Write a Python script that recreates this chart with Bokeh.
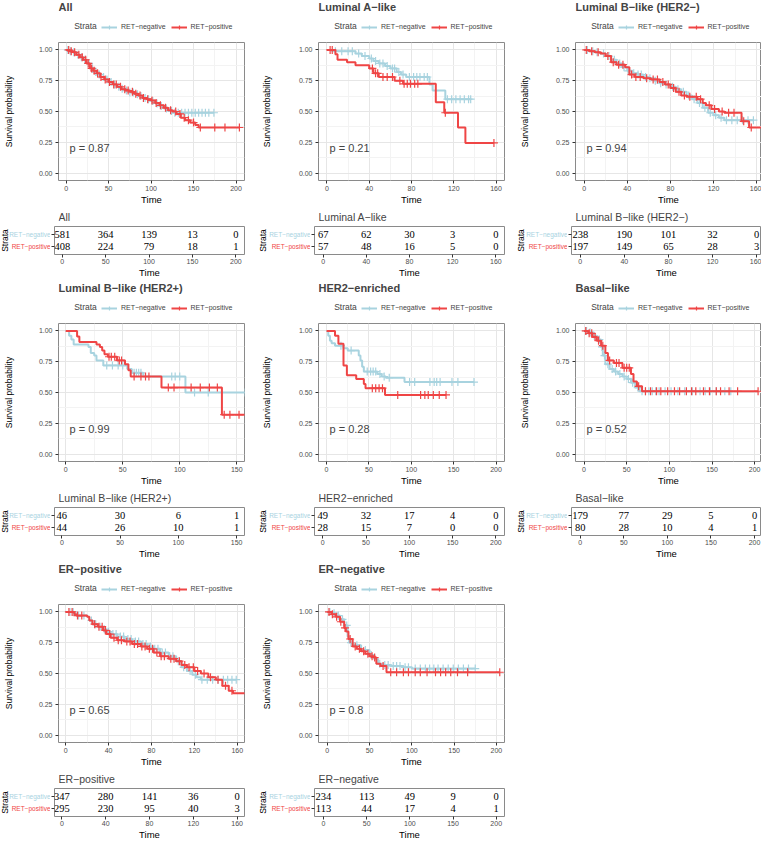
import math
from bokeh.plotting import figure
from bokeh.models import (Range1d, Label, LabelSet, Legend, LegendItem, FixedTicker,
                          ColumnDataSource, PrintfTickFormatter)
from bokeh.layouts import column, row
from bokeh.embed import file_html
from bokeh.resources import INLINE

FONT = "Liberation Sans"
NEG_COLOR = "#A8D3DF"
POS_COLOR = "#EF4545"
STRATA = ["RET−negative", "RET−positive"]

TITLES = ["All", "Luminal A−like", "Luminal B−like (HER2−)", "Luminal B−like (HER2+)",
          "HER2−enriched", "Basal−like", "ER−positive", "ER−negative"]
PVALUES = ["p = 0.87", "p = 0.21", "p = 0.94", "p = 0.99", "p = 0.28", "p = 0.52", "p = 0.65", "p = 0.8"]

# ---- All ----
ALL_TICKS = [0, 50, 100, 150, 200]
ALL_NEG_T = [0, 4, 8, 12, 16, 20, 24, 28, 32, 36, 40, 45, 50, 55, 60, 65, 70, 75, 80, 85, 90, 95, 100, 105, 110, 115, 120, 125, 174]
ALL_NEG_S = [1.0, 0.99, 0.98, 0.96, 0.94, 0.92, 0.89, 0.85, 0.82, 0.80, 0.78, 0.76, 0.74, 0.72, 0.70, 0.685, 0.67, 0.655, 0.64, 0.625, 0.61, 0.60, 0.585, 0.565, 0.545, 0.525, 0.505, 0.49, 0.49]
ALL_NEG_C = [2, 5, 9, 14, 18, 22, 27, 31, 35, 39, 44, 48, 53, 57, 62, 66, 71, 75, 79, 84, 88, 93, 97, 102, 107, 112, 118, 124, 128, 132, 136, 140, 144, 148, 152, 156, 160, 164, 168, 174]
ALL_POS_T = [0, 4, 8, 12, 16, 20, 24, 28, 32, 36, 40, 45, 50, 55, 60, 65, 70, 75, 80, 85, 90, 95, 100, 105, 110, 115, 120, 125, 130, 135, 140, 146, 152, 156, 204]
ALL_POS_S = [1.0, 0.99, 0.98, 0.96, 0.94, 0.92, 0.89, 0.85, 0.83, 0.81, 0.78, 0.76, 0.74, 0.72, 0.70, 0.68, 0.67, 0.66, 0.645, 0.63, 0.61, 0.60, 0.59, 0.57, 0.55, 0.53, 0.51, 0.50, 0.48, 0.45, 0.43, 0.41, 0.39, 0.37, 0.37]
ALL_POS_C = [3, 6, 10, 15, 19, 23, 26, 30, 33, 37, 41, 46, 51, 56, 59, 64, 69, 73, 78, 82, 87, 91, 96, 101, 106, 111, 117, 123, 129, 134, 139, 144, 150, 158, 175, 187, 204]
ALL_RISK_NEG = [581, 364, 139, 13, 0]
ALL_RISK_POS = [408, 224, 79, 18, 1]

# ---- Luminal A-like ----
LUMA_TICKS = [0, 40, 80, 120, 160]
LUMA_NEG_T = [0, 5, 27, 33, 40, 44, 49, 55, 60, 66, 70, 75, 97, 100, 112, 136]
LUMA_NEG_S = [1.0, 0.99, 0.97, 0.95, 0.93, 0.91, 0.89, 0.87, 0.85, 0.82, 0.80, 0.78, 0.72, 0.67, 0.60, 0.60]
LUMA_NEG_C = [8, 14, 20, 24, 30, 36, 42, 46, 50, 53, 57, 62, 64, 68, 72, 78, 82, 85, 88, 92, 95, 114, 118, 122, 126, 130, 134, 136]
LUMA_POS_T = [0, 8, 10, 19, 27, 40, 44, 49, 64, 72, 103, 111, 124, 131, 158]
LUMA_POS_S = [1.0, 0.965, 0.92, 0.90, 0.875, 0.85, 0.81, 0.78, 0.75, 0.725, 0.575, 0.49, 0.37, 0.245, 0.245]
LUMA_POS_C = [3, 5, 43, 46, 48, 53, 57, 62, 69, 73, 76, 79, 83, 86, 112, 158]
LUMA_RISK_NEG = [67, 62, 30, 3, 0]
LUMA_RISK_POS = [57, 48, 16, 5, 0]

# ---- Luminal B-like (HER2-) ----
LUMBN_TICKS = [0, 40, 80, 120, 160]
LUMBN_NEG_T = [0, 5, 10, 15, 20, 25, 30, 35, 40, 45, 50, 55, 60, 65, 70, 75, 80, 85, 90, 95, 100, 105, 110, 115, 120, 125, 130, 157]
LUMBN_NEG_S = [1.0, 0.99, 0.98, 0.97, 0.95, 0.92, 0.89, 0.86, 0.83, 0.81, 0.80, 0.78, 0.77, 0.75, 0.73, 0.72, 0.70, 0.68, 0.66, 0.63, 0.60, 0.57, 0.53, 0.49, 0.47, 0.45, 0.43, 0.43]
LUMBN_NEG_C = [3, 8, 12, 18, 23, 28, 33, 37, 41, 46, 50, 53, 57, 61, 66, 71, 76, 82, 87, 92, 97, 102, 107, 112, 117, 122, 127, 132, 137, 142, 147, 152, 157]
LUMBN_POS_T = [0, 5, 10, 15, 20, 25, 30, 38, 42, 47, 55, 62, 70, 75, 80, 85, 90, 95, 105, 110, 113, 118, 125, 130, 146, 153, 170]
LUMBN_POS_S = [1.0, 0.99, 0.98, 0.97, 0.95, 0.90, 0.88, 0.86, 0.80, 0.78, 0.77, 0.76, 0.74, 0.72, 0.69, 0.66, 0.63, 0.62, 0.60, 0.57, 0.55, 0.52, 0.50, 0.49, 0.42, 0.37, 0.37]
LUMBN_POS_C = [2, 7, 13, 22, 27, 32, 36, 44, 48, 52, 58, 64, 68, 73, 78, 83, 88, 93, 98, 104, 108, 116, 121, 128, 134, 139, 148, 155]
LUMBN_RISK_NEG = [238, 190, 101, 32, 0]
LUMBN_RISK_POS = [197, 149, 65, 28, 3]

# ---- Luminal B-like (HER2+) ----
LUMBP_TICKS = [0, 50, 100, 150]
LUMBP_NEG_T = [0, 3, 5, 7, 20, 22, 25, 27, 33, 54, 58, 68, 105, 160]
LUMBP_NEG_S = [1.0, 0.96, 0.93, 0.89, 0.87, 0.82, 0.80, 0.76, 0.72, 0.69, 0.66, 0.63, 0.50, 0.50]
LUMBP_NEG_C = [36, 41, 46, 50, 60, 62, 64, 66, 93, 96, 100, 113, 125, 157]
LUMBP_POS_T = [0, 10, 12, 27, 30, 32, 34, 37, 45, 52, 55, 57, 84, 137, 160]
LUMBP_POS_S = [1.0, 0.955, 0.91, 0.89, 0.87, 0.84, 0.81, 0.79, 0.76, 0.73, 0.68, 0.63, 0.54, 0.32, 0.32]
LUMBP_POS_C = [38, 40, 43, 47, 49, 60, 66, 70, 73, 90, 95, 110, 118, 126, 133, 139, 144, 152]
LUMBP_RISK_NEG = [46, 30, 6, 1]
LUMBP_RISK_POS = [44, 26, 10, 1]

# ---- HER2-enriched ----
HER2_TICKS = [0, 50, 100, 150, 200]
HER2_NEG_T = [0, 2, 4, 6, 10, 20, 25, 38, 40, 42, 44, 60, 65, 70, 92, 174]
HER2_NEG_S = [1.0, 0.96, 0.92, 0.90, 0.88, 0.86, 0.84, 0.80, 0.76, 0.71, 0.67, 0.65, 0.63, 0.62, 0.585, 0.585]
HER2_NEG_C = [17, 29, 48, 52, 55, 58, 63, 68, 74, 98, 104, 122, 127, 130, 134, 148, 155, 174]
HER2_POS_T = [0, 10, 14, 20, 24, 35, 44, 46, 69, 141]
HER2_POS_S = [1.0, 0.96, 0.895, 0.72, 0.64, 0.61, 0.57, 0.535, 0.48, 0.48]
HER2_POS_C = [54, 58, 62, 66, 84, 111, 116, 120, 126, 133, 141]
HER2_RISK_NEG = [49, 32, 17, 4, 0]
HER2_RISK_POS = [28, 15, 7, 0, 0]

# ---- Basal-like ----
BAS_TICKS = [0, 50, 100, 150, 200]
BAS_NEG_T = [0, 5, 10, 15, 20, 22, 25, 30, 35, 40, 45, 50, 55, 60, 65, 172]
BAS_NEG_S = [1.0, 0.99, 0.96, 0.93, 0.87, 0.80, 0.73, 0.69, 0.67, 0.65, 0.63, 0.61, 0.58, 0.54, 0.51, 0.51]
BAS_NEG_C = [3, 7, 12, 18, 21, 24, 28, 33, 37, 42, 47, 52, 57, 63, 68, 72, 76, 80, 84, 88, 95, 102, 110, 118, 127, 136, 142, 148, 155, 165, 172]
BAS_POS_T = [0, 5, 10, 15, 20, 25, 28, 35, 45, 55, 58, 62, 68, 204]
BAS_POS_S = [1.0, 0.98, 0.95, 0.92, 0.88, 0.82, 0.76, 0.74, 0.70, 0.65, 0.59, 0.55, 0.51, 0.51]
BAS_POS_C = [2, 6, 9, 13, 17, 22, 30, 38, 41, 47, 50, 53, 64, 72, 78, 85, 90, 98, 106, 112, 120, 126, 131, 140, 147, 155, 160, 170, 180, 204]
BAS_RISK_NEG = [179, 77, 29, 5, 0]
BAS_RISK_POS = [80, 28, 10, 4, 1]

# ---- ER-positive ----
ERP_TICKS = [0, 40, 80, 120, 160]
ERP_NEG_T = [0, 8, 10, 20, 22, 25, 30, 35, 38, 42, 48, 55, 62, 70, 76, 82, 88, 96, 103, 108, 113, 118, 122, 126, 159]
ERP_NEG_S = [1.0, 0.98, 0.97, 0.96, 0.93, 0.90, 0.88, 0.86, 0.84, 0.82, 0.80, 0.78, 0.76, 0.74, 0.72, 0.70, 0.67, 0.64, 0.60, 0.55, 0.52, 0.49, 0.47, 0.45, 0.45]
ERP_NEG_C = [4, 7, 12, 17, 24, 28, 32, 36, 40, 44, 47, 51, 54, 58, 61, 65, 68, 72, 75, 79, 83, 86, 90, 93, 97, 100, 105, 110, 116, 121, 127, 132, 137, 142, 147, 151, 155, 159]
ERP_POS_T = [0, 8, 10, 20, 22, 25, 30, 35, 38, 42, 48, 55, 62, 70, 76, 82, 88, 96, 103, 108, 113, 120, 126, 133, 140, 146, 152, 156, 170]
ERP_POS_S = [1.0, 0.98, 0.97, 0.96, 0.93, 0.90, 0.88, 0.85, 0.82, 0.79, 0.77, 0.76, 0.74, 0.72, 0.70, 0.67, 0.64, 0.62, 0.60, 0.57, 0.55, 0.52, 0.50, 0.47, 0.45, 0.40, 0.36, 0.34, 0.34]
ERP_POS_C = [3, 6, 11, 15, 27, 31, 34, 37, 41, 45, 49, 52, 57, 60, 64, 67, 71, 74, 78, 81, 85, 89, 92, 98, 101, 106, 111, 115, 119, 123, 129, 135, 142, 149, 155]
ERP_RISK_NEG = [347, 280, 141, 36, 0]
ERP_RISK_POS = [295, 230, 95, 40, 3]

# ---- ER-negative ----
ERN_TICKS = [0, 50, 100, 150, 200]
ERN_NEG_T = [0, 5, 10, 15, 20, 24, 26, 30, 40, 50, 55, 60, 65, 75, 90, 100, 175]
ERN_NEG_S = [1.0, 0.99, 0.97, 0.94, 0.89, 0.80, 0.75, 0.73, 0.69, 0.65, 0.62, 0.58, 0.57, 0.56, 0.55, 0.54, 0.54]
ERN_NEG_C = [3, 8, 13, 18, 23, 28, 35, 45, 52, 62, 68, 72, 78, 82, 86, 92, 96, 104, 110, 116, 121, 126, 131, 137, 143, 149, 155, 161, 167, 175]
ERN_POS_T = [0, 5, 10, 15, 20, 22, 25, 30, 35, 40, 45, 50, 55, 58, 63, 70, 204]
ERN_POS_S = [1.0, 0.98, 0.96, 0.92, 0.87, 0.84, 0.78, 0.72, 0.70, 0.68, 0.66, 0.64, 0.63, 0.58, 0.56, 0.51, 0.51]
ERN_POS_C = [2, 6, 11, 16, 21, 27, 33, 38, 43, 48, 53, 56, 66, 75, 82, 90, 96, 104, 110, 118, 128, 134, 140, 146, 154, 166, 204]
ERN_RISK_NEG = [234, 113, 49, 9, 0]
ERN_RISK_POS = [113, 44, 17, 4, 1]

# x-axis ranges (data units) per panel
X_RANGES = [(-9, 210), (-8, 168), (-8, 164.5), (-6.3, 156.8), (-9.5, 210), (-10, 208), (-6.7, 166.7), (-10.4, 209.6)]

PANELS = [
    (ALL_TICKS, ALL_NEG_T, ALL_NEG_S, ALL_NEG_C, ALL_POS_T, ALL_POS_S, ALL_POS_C, ALL_RISK_NEG, ALL_RISK_POS),
    (LUMA_TICKS, LUMA_NEG_T, LUMA_NEG_S, LUMA_NEG_C, LUMA_POS_T, LUMA_POS_S, LUMA_POS_C, LUMA_RISK_NEG, LUMA_RISK_POS),
    (LUMBN_TICKS, LUMBN_NEG_T, LUMBN_NEG_S, LUMBN_NEG_C, LUMBN_POS_T, LUMBN_POS_S, LUMBN_POS_C, LUMBN_RISK_NEG, LUMBN_RISK_POS),
    (LUMBP_TICKS, LUMBP_NEG_T, LUMBP_NEG_S, LUMBP_NEG_C, LUMBP_POS_T, LUMBP_POS_S, LUMBP_POS_C, LUMBP_RISK_NEG, LUMBP_RISK_POS),
    (HER2_TICKS, HER2_NEG_T, HER2_NEG_S, HER2_NEG_C, HER2_POS_T, HER2_POS_S, HER2_POS_C, HER2_RISK_NEG, HER2_RISK_POS),
    (BAS_TICKS, BAS_NEG_T, BAS_NEG_S, BAS_NEG_C, BAS_POS_T, BAS_POS_S, BAS_POS_C, BAS_RISK_NEG, BAS_RISK_POS),
    (ERP_TICKS, ERP_NEG_T, ERP_NEG_S, ERP_NEG_C, ERP_POS_T, ERP_POS_S, ERP_POS_C, ERP_RISK_NEG, ERP_RISK_POS),
    (ERN_TICKS, ERN_NEG_T, ERN_NEG_S, ERN_NEG_C, ERN_POS_T, ERN_POS_S, ERN_POS_C, ERN_RISK_NEG, ERN_RISK_POS),
]

# ---- layout geometry ----
COL_W = [258, 258, 245]
COL_BL = [54, 56, 55]
FRAME_W = 190
TITLE_H = 13                     # panel title strip
LEG_H = 27                       # legend strip
KM_TOP, KM_FRAME_H, KM_BOT = 2, 140, 25
KM_H = KM_TOP + KM_FRAME_H + KM_BOT
MID_H = 17                       # risk-table title strip
TB_TOP, TB_FRAME_H, TB_BOT = 2, 28, 27
TB_H = TB_TOP + TB_FRAME_H + TB_BOT
TB_Y = (0.4, 2.6)
TICK_COL = "#333333"
LAB_COL = "#4D4D4D"
BORDER = "#8A8A8A"
MARK_SIZE = 8


def surv_at(t, T, S):
    val = S[0]
    for ti, si in zip(T, S):
        if ti <= t:
            val = si
        else:
            break
    return val


def minor_of(ticks):
    step = ticks[1] - ticks[0]
    return [t + step / 2 for t in ticks[:-1]] + [ticks[-1] + step / 2]


def strip_fig(col, h):
    """Empty strip whose frame lines up with the panel frame; data units = pixels."""
    w, bl = COL_W[col], COL_BL[col]
    f = figure(width=w, height=h, x_range=Range1d(0, FRAME_W), y_range=Range1d(0, h),
               x_axis_type=None, y_axis_type=None,
               min_border_left=bl, min_border_right=w - bl - FRAME_W, min_border_top=0, min_border_bottom=0,
               output_backend="svg", toolbar_location=None, title=None)
    f.outline_line_color = None
    return f


def style_axis(ax, label, label_size, standoff):
    ax.axis_line_color = None
    ax.major_tick_line_color = TICK_COL
    ax.major_tick_in = 0
    ax.major_tick_out = 3
    ax.minor_tick_line_color = None
    ax.major_label_text_font = FONT
    ax.major_label_text_font_size = "7px"
    ax.major_label_text_color = LAB_COL
    ax.major_label_standoff = 2
    ax.axis_label = label
    ax.axis_label_text_font = FONT
    ax.axis_label_text_font_size = label_size
    ax.axis_label_text_font_style = "normal"
    ax.axis_label_text_color = "black"
    ax.axis_label_standoff = standoff


def title_figure(i, col):
    f = strip_fig(col, TITLE_H)
    f.add_layout(Label(x=0, y=TITLE_H / 2, text=TITLES[i], text_font=FONT, text_font_size="11px",
                       text_font_style="bold", text_baseline="middle", text_align="left"))
    return f


def legend_figure(col):
    f = strip_fig(col, LEG_H)
    # key renderers sit outside the visible range; only their legend swatches show
    hx, hy = [-20, -10], [-20, -20]
    d_neg_l = f.line(hx, hy, line_width=2, color=NEG_COLOR)
    d_neg_s = f.scatter(hx, hy, marker="cross", size=MARK_SIZE, line_width=1.2, color=NEG_COLOR)
    d_pos_l = f.line(hx, hy, line_width=2, color=POS_COLOR)
    d_pos_s = f.scatter(hx, hy, marker="cross", size=MARK_SIZE, line_width=1.2, color=POS_COLOR)
    legend = Legend(items=[LegendItem(label=STRATA[0], renderers=[d_neg_l, d_neg_s]),
                           LegendItem(label=STRATA[1], renderers=[d_pos_l, d_pos_s])],
                    location="left", orientation="horizontal",
                    padding=0, margin=43, spacing=5, glyph_width=16, glyph_height=10,
                    label_standoff=4, label_text_font=FONT, label_text_font_size="7px",
                    label_height=10, border_line_color=None, background_fill_alpha=0)
    f.add_layout(legend)
    f.add_layout(Label(x=16, y=LEG_H / 2 + 1, text="Strata", text_font=FONT, text_font_size="8.5px",
                       text_baseline="middle", text_align="left"))
    return f


def km_figure(i, col):
    ticks, nt, ns, nc, pt, ps, pc, rn, rp = PANELS[i]
    w, bl = COL_W[col], COL_BL[col]
    p = figure(width=w, height=KM_H, x_range=Range1d(*X_RANGES[i]), y_range=Range1d(-0.06, 1.06),
               min_border_left=bl, min_border_right=w - bl - FRAME_W,
               min_border_top=KM_TOP, min_border_bottom=KM_BOT,
               output_backend="svg", toolbar_location=None, title=None)
    p.outline_line_color = BORDER
    p.outline_line_width = 1
    p.xaxis.ticker = FixedTicker(ticks=ticks, minor_ticks=minor_of(ticks))
    p.yaxis.ticker = FixedTicker(ticks=[0, 0.25, 0.5, 0.75, 1.0], minor_ticks=[0.125, 0.375, 0.625, 0.875])
    p.yaxis.formatter = PrintfTickFormatter(format="%.2f")
    style_axis(p.xaxis[0], "Time", "9.5px", 0)
    p.xaxis.major_label_standoff = 1
    style_axis(p.yaxis[0], "Survival probability", "8.5px", bl - 32)
    for g in (p.xgrid[0], p.ygrid[0]):
        g.grid_line_color = "#E6E6E6"
        g.grid_line_width = 1
        g.minor_grid_line_color = "#F3F3F3"
        g.minor_grid_line_width = 1

    p.step(nt, ns, mode="after", line_width=2, color=NEG_COLOR)
    p.scatter(nc, [surv_at(t, nt, ns) for t in nc], marker="cross", size=MARK_SIZE,
              line_width=1.2, color=NEG_COLOR)
    p.step(pt, ps, mode="after", line_width=2, color=POS_COLOR)
    p.scatter(pc, [surv_at(t, pt, ps) for t in pc], marker="cross", size=MARK_SIZE,
              line_width=1.2, color=POS_COLOR)
    p.add_layout(Label(x=11, y=0.2, x_units="screen", y_units="data", text=PVALUES[i],
                       text_font=FONT, text_font_size="11px", text_baseline="middle"))
    return p


def mid_figure(i, col):
    f = strip_fig(col, MID_H)
    f.add_layout(Label(x=0, y=MID_H - 9, text=TITLES[i], text_font=FONT, text_font_size="10.5px",
                       text_baseline="middle", text_align="left"))
    return f


def strata_figure(col):
    bl = COL_BL[col]
    wl = bl - 4
    s = figure(width=wl, height=TB_H, x_range=Range1d(0, wl), y_range=Range1d(*TB_Y),
               x_axis_type=None, y_axis_type=None,
               min_border_left=0, min_border_right=0, min_border_top=TB_TOP, min_border_bottom=TB_BOT,
               output_backend="svg", toolbar_location=None, title=None)
    s.outline_line_color = None
    s.add_layout(Label(x=4.5, y=1.5, text="Strata", angle=math.pi / 2,
                       text_align="center", text_baseline="middle", text_font=FONT,
                       text_font_size="8.5px", text_color="black"))
    s.add_layout(Label(x=wl, y=2, text=STRATA[0],
                       text_align="right", text_baseline="middle", text_font=FONT,
                       text_font_size="6.5px", text_color=NEG_COLOR))
    s.add_layout(Label(x=wl, y=1, text=STRATA[1],
                       text_align="right", text_baseline="middle", text_font=FONT,
                       text_font_size="6.5px", text_color=POS_COLOR))
    return s


def table_figure(i, col):
    ticks, nt, ns, nc, pt, ps, pc, rn, rp = PANELS[i]
    w, bl = COL_W[col], COL_BL[col]
    tw = w - bl + 4
    t = figure(width=tw, height=TB_H, x_range=Range1d(*X_RANGES[i]), y_range=Range1d(*TB_Y),
               min_border_left=4, min_border_right=w - bl - FRAME_W,
               min_border_top=TB_TOP, min_border_bottom=TB_BOT,
               output_backend="svg", toolbar_location=None, title=None)
    t.outline_line_color = BORDER
    t.outline_line_width = 1
    t.xgrid.visible = False
    t.ygrid.visible = False
    t.xaxis.ticker = FixedTicker(ticks=ticks)
    t.yaxis.ticker = FixedTicker(ticks=[1, 2])
    style_axis(t.xaxis[0], "Time", "9.5px", 0)
    t.xaxis.major_label_standoff = 1
    style_axis(t.yaxis[0], None, "9px", 0)
    t.yaxis.major_label_overrides = {1: "", 2: ""}
    t.yaxis.major_label_text_font_size = "0px"
    t.yaxis.major_label_standoff = 0

    src = ColumnDataSource(dict(x=list(ticks) + list(ticks),
                                y=[2] * len(ticks) + [1] * len(ticks),
                                txt=[str(v) for v in rn] + [str(v) for v in rp]))
    t.add_layout(LabelSet(x="x", y="y", text="txt", source=src, text_align="center",
                          text_baseline="middle", text_font=FONT, text_font_size="10.5px",
                          text_color="black"))
    return t


rows = []
idx = 0
for r, ncols in enumerate([3, 3, 2]):
    cells = []
    for c in range(ncols):
        cells.append(column(title_figure(idx, c), legend_figure(c), km_figure(idx, c),
                            mid_figure(idx, c), row(strata_figure(c), table_figure(idx, c))))
        idx += 1
    rows.append(row(*cells))

layout = column(*rows)
open("out.html", "w").write(file_html(layout, INLINE, title="KM curves"))
